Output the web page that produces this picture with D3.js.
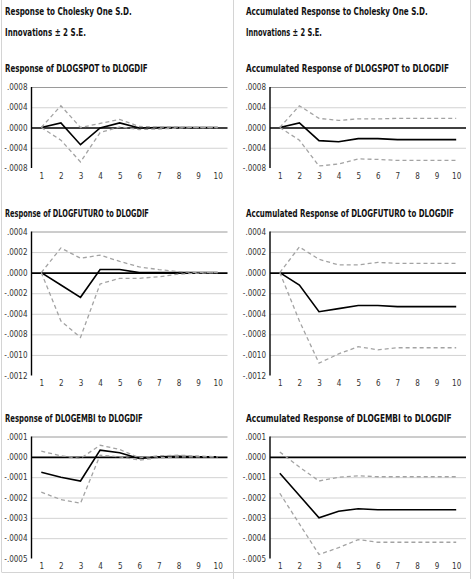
<!DOCTYPE html>
<html>
<head>
<meta charset="utf-8">
<script src="https://cdn.jsdelivr.net/npm/d3@7"></script>
<style>
  html, body { margin: 0; padding: 0; background: #fff; }
  svg { display: block; }
  .ttl { font-family: "Liberation Sans Narrow", "DejaVu Sans Condensed", "Roboto", sans-serif; font-weight: bold; font-size: 11px; fill: #111; }
  .tick text { font-family: "Liberation Sans Narrow", "DejaVu Sans Condensed", "Roboto", sans-serif; font-size: 8px; fill: #333; }
</style>
</head>
<body>
<script>
// ---------- data ----------
const periods = [1, 2, 3, 4, 5, 6, 7, 8, 9, 10];

const headerLeft = ["Response to Cholesky One S.D.", "Innovations \u00b1 2 S.E."];
const headerRight = ["Accumulated Response to Cholesky One S.D.", "Innovations \u00b1 2 S.E."];

const titles = [
  "Response of DLOGSPOT to DLOGDIF", "Accumulated Response of DLOGSPOT to DLOGDIF",
  "Response of DLOGFUTURO to DLOGDIF", "Accumulated Response of DLOGFUTURO to DLOGDIF",
  "Response of DLOGEMBI to DLOGDIF", "Accumulated Response of DLOGEMBI to DLOGDIF"
];

// y ticks and labels per row
const spotTicks = [0.0008, 0.0004, 0, -0.0004, -0.0008];
const spotTickLabels = [".0008", ".0004", ".0000", "-.0004", "-.0008"];
const futTicks = [0.0004, 0.0002, 0, -0.0002, -0.0004, -0.0006, -0.0008, -0.0010];
const futTickLabels = [".0004", ".0002", ".0000", "-.0002", "-.0004", "-.0008", "-.0010", "-.0012"];
const embiTicks = [0.0001, 0, -0.0001, -0.0002, -0.0003, -0.0004, -0.0005];
const embiTickLabels = [".0001", ".0000", "-.0001", "-.0002", "-.0003", "-.0004", "-.0005"];

// Response of DLOGSPOT
const spotResp  = [0, 0.00009, -0.00034, -0.00001, 0.00009, -0.00001, 0, 0, 0, 0];
const spotUpper = [0, 0.00043, 0.00000, 0.00008, 0.00016, 0.00002, 0.00001, 0.00001, 0, 0];
const spotLower = [0, -0.00025, -0.00068, -0.00010, 0.00001, -0.00004, -0.00003, -0.00001, 0, 0];
// Accumulated response of DLOGSPOT
const spotAccResp  = [0, 0.00009, -0.00026, -0.00028, -0.00022, -0.00022, -0.00024, -0.00024, -0.00024, -0.00024];
const spotAccUpper = [0, 0.00043, 0.00018, 0.00014, 0.00017, 0.00017, 0.00018, 0.00018, 0.00018, 0.00018];
const spotAccLower = [0, -0.00025, -0.00076, -0.00072, -0.00062, -0.00063, -0.00065, -0.00065, -0.00065, -0.00065];

// Response of DLOGFUTURO
const futResp  = [0, -0.00012, -0.00024, 0.00003, 0.00003, 0, 0, 0, 0, 0];
const futUpper = [0, 0.00024, 0.00014, 0.00017, 0.00011, 0.000055, 0.00003, 0.00001, 0, 0];
const futLower = [0, -0.00047, -0.00063, -0.00011, -0.000055, -0.000055, -0.00004, -0.000015, -0.000005, 0];
// Accumulated response of DLOGFUTURO
const futAccResp  = [0, -0.00012, -0.00038, -0.00035, -0.00032, -0.00032, -0.00033, -0.00033, -0.00033, -0.00033];
const futAccUpper = [0, 0.00025, 0.00013, 0.000075, 0.000075, 0.0001, 0.00009, 0.00009, 0.00009, 0.00009];
const futAccLower = [0, -0.00047, -0.00088, -0.00079, -0.00072, -0.00075, -0.00073, -0.00073, -0.00073, -0.00073];

// Response of DLOGEMBI
const embiResp  = [-0.000076, -0.0001, -0.000119, 0.000033, 0.00002, -0.000008, 0, 0.000003, 0, 0];
const embiUpper = [0.000028, 0.000005, -0.000008, 0.000057, 0.000036, -0.000005, 0.000005, 0.000008, 0.000004, 0];
const embiLower = [-0.000174, -0.00021, -0.000228, 0.000008, 0, -0.000016, -0.000005, 0, 0, 0];
// Accumulated response of DLOGEMBI
const embiAccResp  = [-0.000081, -0.00019, -0.0003, -0.000268, -0.000255, -0.00026, -0.00026, -0.00026, -0.00026, -0.00026];
const embiAccUpper = [0.000024, -0.00005, -0.000119, -0.0001, -0.000093, -0.000098, -0.000098, -0.000098, -0.000098, -0.000098];
const embiAccLower = [-0.000179, -0.00033, -0.00048, -0.000447, -0.000407, -0.00042, -0.00042, -0.00042, -0.00042, -0.00042];

// ---------- layout ----------
const W = 472, H = 579;
const cols = [{x0: 31.5, x1: 227.5, tx: 5}, {x0: 270, x1: 466, tx: 246}];
const rows = [{top: 87, bottom: 168}, {top: 231.5, bottom: 375.5}, {top: 436.5, bottom: 558.5}];
const titleWidths = [143, 203, 144, 208, 138, 206];

const panels = [
  {r: 0, c: 0, ticks: spotTicks, labels: spotTickLabels, resp: spotResp, up: spotUpper, lo: spotLower},
  {r: 0, c: 1, ticks: spotTicks, labels: spotTickLabels, resp: spotAccResp, up: spotAccUpper, lo: spotAccLower},
  {r: 1, c: 0, ticks: futTicks, labels: futTickLabels, resp: futResp, up: futUpper, lo: futLower},
  {r: 1, c: 1, ticks: futTicks, labels: futTickLabels, resp: futAccResp, up: futAccUpper, lo: futAccLower},
  {r: 2, c: 0, ticks: embiTicks, labels: embiTickLabels, resp: embiResp, up: embiUpper, lo: embiLower},
  {r: 2, c: 1, ticks: embiTicks, labels: embiTickLabels, resp: embiAccResp, up: embiAccUpper, lo: embiAccLower}
];

const svg = d3.select("body").append("svg").attr("width", W).attr("height", H);

// condensed title: measure natural width, then squeeze horizontally to the target width
function title(parent, x, y, width, str) {
  const t = parent.append("text").attr("class", "ttl").attr("x", 0).attr("y", 0).text(str);
  const w = t.node().getComputedTextLength();
  const sx = Math.min(1, width / w);
  t.attr("transform", `translate(${x},${y}) scale(${sx},1)`);
  return t;
}

// frame lines
svg.append("line").attr("x1", 1.5).attr("x2", 1.5).attr("y1", 0).attr("y2", 572).attr("stroke", "#d4d4d4");
svg.append("line").attr("x1", 233.5).attr("x2", 233.5).attr("y1", 0).attr("y2", 579).attr("stroke", "#d4d4d4");
svg.append("line").attr("x1", 470.5).attr("x2", 470.5).attr("y1", 0).attr("y2", 579).attr("stroke", "#d4d4d4");
svg.append("line").attr("x1", 1.5).attr("x2", 470.5).attr("y1", 572.5).attr("y2", 572.5).attr("stroke", "#d4d4d4");

// headers
[[headerLeft, 5, [127, 81]], [headerRight, 246, [182, 76]]].forEach(([lines, x, widths]) => {
  lines.forEach((t, i) => title(svg, x, i === 0 ? 14.5 : 35.5, widths[i], t));
});

panels.forEach((p, i) => {
  const col = cols[p.c], row = rows[p.r];
  const g = svg.append("g");

  title(g, col.tx, row.top - 15, titleWidths[i], titles[i]);

  const x = d3.scalePoint().domain(periods).range([col.x0, col.x1]).padding(0.5);
  const y = d3.scaleLinear().domain([d3.min(p.ticks), d3.max(p.ticks)]).range([row.bottom, row.top]);

  // gridlines (all but the bottom one)
  const gridTicks = p.ticks.filter(t => t !== d3.min(p.ticks));
  const grid = g.append("g").attr("transform", `translate(${col.x0},0)`)
    .call(d3.axisLeft(y).tickValues(gridTicks).tickSize(-(col.x1 - col.x0)).tickFormat(""));
  grid.select(".domain").remove();
  grid.selectAll(".tick line")
    .attr("stroke", d => d === 0 ? "#000" : (d === d3.max(p.ticks) ? "#9a9a9a" : "#d2d2d2"))
    .attr("stroke-width", d => d === 0 ? 1.6 : 1);

  // y axis labels
  const ya = g.append("g").attr("transform", `translate(${col.x0 - 4},0)`)
    .call(d3.axisLeft(y).tickValues(p.ticks).tickSize(0).tickPadding(0)
      .tickFormat((d, k) => p.labels[k]));
  ya.select(".domain").remove();

  // y axis line
  g.append("line").attr("x1", col.x0).attr("x2", col.x0).attr("y1", row.top).attr("y2", row.bottom)
    .attr("stroke", "#000").attr("stroke-width", 1.4);

  // x axis labels
  const xa = g.append("g").attr("transform", `translate(0,${row.bottom + 5})`)
    .call(d3.axisBottom(x).tickSize(0).tickPadding(0));
  xa.select(".domain").remove();

  const line = d3.line().x((d, k) => x(periods[k])).y(d => y(d));

  g.append("path").datum(p.resp).attr("d", line).attr("fill", "none")
    .attr("stroke", "#000").attr("stroke-width", 1.6).attr("stroke-linejoin", "miter");
  [p.up, p.lo].forEach(s => {
    g.append("path").datum(s).attr("d", line).attr("fill", "none")
      .attr("stroke", "#a3a3a3").attr("stroke-width", 1.3).attr("stroke-dasharray", "4,3");
  });
});
</script>
</body>
</html>
